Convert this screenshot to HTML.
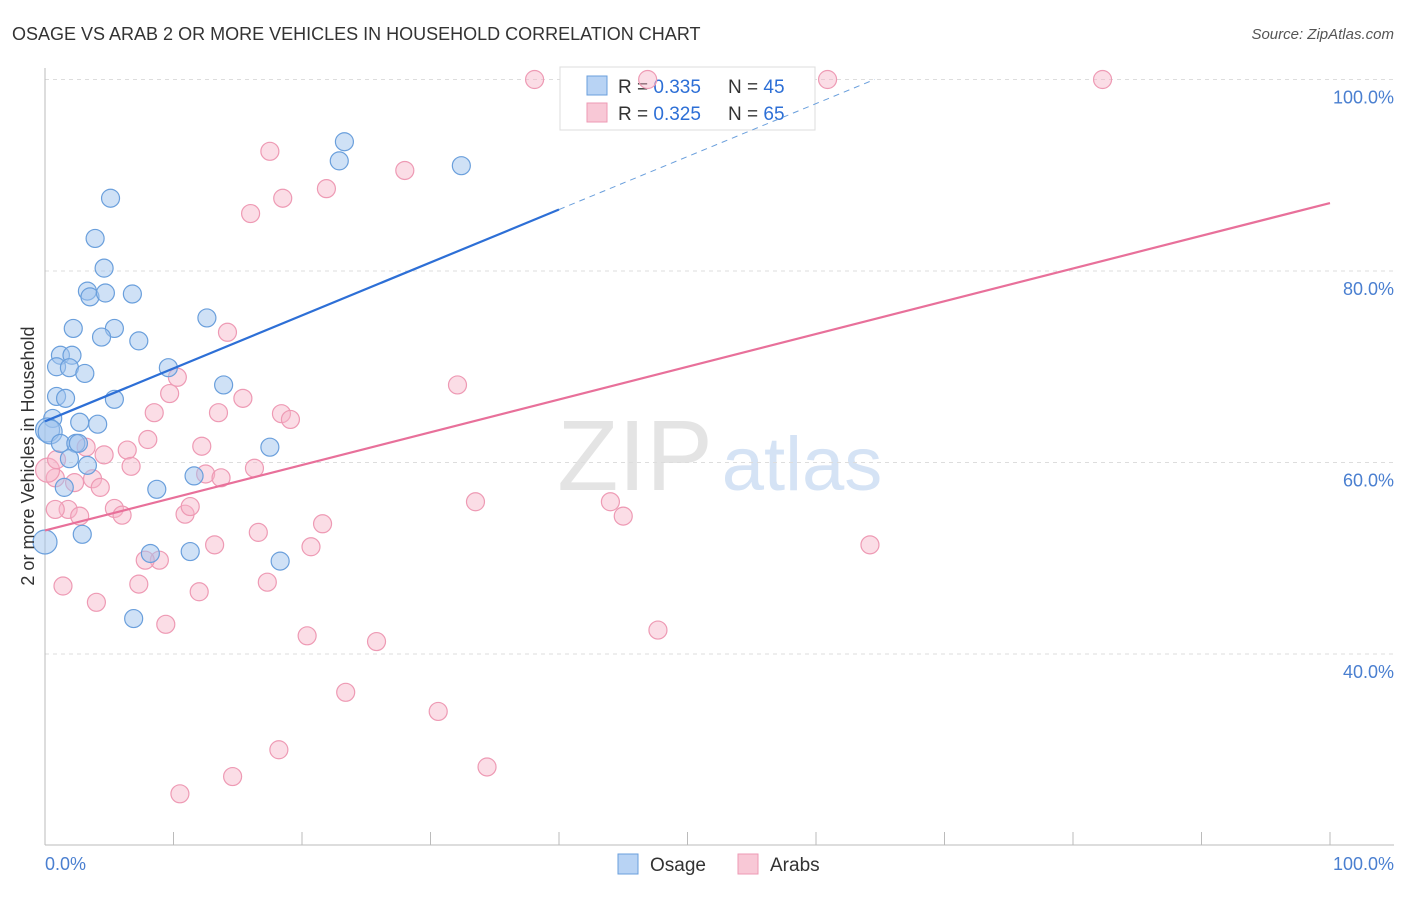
<!DOCTYPE html>
<html><head><meta charset="utf-8"><style>
body{margin:0;background:#fff;font-family:"Liberation Sans",sans-serif;}
svg text{font-family:"Liberation Sans",sans-serif;}
</style></head><body>
<svg id="chart" width="1406" height="892" xmlns="http://www.w3.org/2000/svg">
<text x="12" y="40" font-size="18" fill="#333">OSAGE VS ARAB 2 OR MORE VEHICLES IN HOUSEHOLD CORRELATION CHART</text>
<text x="1394" y="39" font-size="15" fill="#555" text-anchor="end" font-style="italic">Source: ZipAtlas.com</text>
<g><text x="635" y="490" font-size="100" fill="#e4e4e4" font-family="Liberation Serif" text-anchor="middle">ZIP</text><text x="802" y="490" font-size="76" fill="#d5e3f5" text-anchor="middle">atlas</text></g>
<g id="grid"></g>
<g id="axes"></g>
<g>
<rect x="560" y="67" width="255" height="63" fill="#fff" stroke="#ddd"/>
<rect x="587" y="76" width="20" height="19" fill="#b8d3f4" stroke="#6a9fdc"/>
<rect x="587" y="103" width="20" height="19" fill="#f8c8d6" stroke="#ee9ab4"/>
<text x="618" y="93" font-size="19" fill="#333">R = <tspan fill="#2d6fd6">0.335</tspan></text>
<text x="728" y="93" font-size="19" fill="#333">N = <tspan fill="#2d6fd6">45</tspan></text>
<text x="618" y="120" font-size="19" fill="#333">R = <tspan fill="#2d6fd6">0.325</tspan></text>
<text x="728" y="120" font-size="19" fill="#333">N = <tspan fill="#2d6fd6">65</tspan></text>
</g>
<g id="pts"></g>
<g id="trend"></g>
<text transform="translate(34,456) rotate(-90)" font-size="18" fill="#333" text-anchor="middle">2 or more Vehicles in Household</text>
<text x="45" y="870" font-size="18" fill="#4a7fd0">0.0%</text>
<text x="1394" y="870" font-size="18" fill="#4a7fd0" text-anchor="end">100.0%</text>
<g>
<rect x="618" y="854" width="20" height="20" fill="#b8d3f4" stroke="#6a9fdc"/>
<text x="650" y="871" font-size="19" fill="#333">Osage</text>
<rect x="738" y="854" width="20" height="20" fill="#f8c8d6" stroke="#ee9ab4"/>
<text x="770" y="871" font-size="19" fill="#333">Arabs</text>
</g>
</svg>
<script>
const yTicks=[40,60,80,100];
const yTickLabels=["40.0%","60.0%","80.0%","100.0%"];
const osageX=[5.1,3.9,4.6,3.3,3.5,4.7,6.8,2.2,5.4,4.4,7.3,12.6,1.2,2.1,0.9,1.9,3.1,9.6,13.9,0.9,1.6,5.4,0.6,2.7,4.1,0.2,0.4,1.2,2.4,2.6,17.5,1.9,3.3,11.6,1.5,8.7,2.9,0.0,8.2,11.3,18.3,6.9,23.3,22.9,32.4];
const osageY=[87.6,83.4,80.3,77.9,77.3,77.7,77.6,74.0,74.0,73.1,72.7,75.1,71.2,71.2,70.0,69.9,69.3,69.9,68.1,66.9,66.7,66.6,64.6,64.2,64.0,63.4,63.2,62.0,62.0,62.0,61.6,60.4,59.7,58.6,57.4,57.2,52.5,51.7,50.5,50.7,49.7,43.7,93.5,91.5,91.0];
const arabX=[38.1,46.9,60.9,82.3,17.5,18.5,21.9,28.0,16.0,14.2,10.3,9.7,15.4,8.5,13.5,18.4,19.1,32.1,8.0,12.2,3.2,6.4,4.6,16.3,6.7,12.5,13.7,3.7,2.3,4.3,0.8,0.2,0.9,1.8,0.8,5.4,6.0,2.7,10.9,11.3,33.5,44.0,45.0,21.6,16.6,13.2,20.7,8.9,7.8,64.2,1.4,7.3,17.3,12.0,4.0,9.4,20.4,25.8,47.7,23.4,30.6,18.2,14.6,34.4,10.5];
const arabY=[100,100,100,100,92.5,87.6,88.6,90.5,86.0,73.6,68.9,67.2,66.7,65.2,65.2,65.1,64.5,68.1,62.4,61.7,61.6,61.3,60.8,59.4,59.6,58.8,58.4,58.3,57.9,57.4,58.4,59.2,60.3,55.1,55.1,55.2,54.5,54.4,54.6,55.4,55.9,55.9,54.4,53.6,52.7,51.4,51.2,49.8,49.8,51.4,47.1,47.3,47.5,46.5,45.4,43.1,41.9,41.3,42.5,36.0,34.0,30.0,27.2,28.2,25.4];
const osageTrend=[64.3,0.553];
const arabTrend=[52.9,0.342];
const NS="http://www.w3.org/2000/svg";
const X=v=>45+v*12.85, Y=v=>79.5+(100-v)*9.575;
function mk(t,a,p){const e=document.createElementNS(NS,t);for(const k in a)e.setAttribute(k,a[k]);p.appendChild(e);return e;}
const grid=document.getElementById('grid'),axes=document.getElementById('axes'),pts=document.getElementById('pts'),tr=document.getElementById('trend');
yTicks.forEach((t,i)=>{
 const l=mk('line',{x1:45,x2:1394,y1:Y(t),y2:Y(t),stroke:'#ddd','stroke-dasharray':'4,4'},grid);
 
 
 const tx=mk('text',{x:1394,y:Y(t)+24,'font-size':18,fill:'#4a7fd0','text-anchor':'end'},grid);
 tx.textContent=yTickLabels[i];
 
 
});
mk('line',{x1:45,x2:45,y1:68,y2:845,stroke:'#bbb'},axes);
mk('line',{x1:45,x2:1394,y1:845,y2:845,stroke:'#bbb'},axes);
for(let i=0;i<=10;i++){const t=mk('line',{x1:X(i*10),x2:X(i*10),y1:832,y2:845,stroke:'#bbb'},axes);
 
 }
function dots(xs,ys,fill,stroke,name){xs.forEach((x,i)=>{
 const r=(x<0.5)?12:9;
 const c=mk('circle',{cx:X(x),cy:Y(ys[i]),r:r,fill:fill,stroke:stroke,'stroke-width':1.2},pts);
 
 
});}
dots(arabX,arabY,'rgba(246,180,200,0.45)','#ee9ab4','arab-point');
dots(osageX,osageY,'rgba(160,196,238,0.5)','#6a9fdc','osage-point');
const b=osageTrend, p=arabTrend;
const l1=mk('line',{x1:X(0),y1:Y(b[0]),x2:X(40),y2:Y(b[0]+b[1]*40),stroke:'#2d6fd6','stroke-width':2.2},tr);


const xe=(100-b[0])/b[1];
const l2=mk('line',{x1:X(40),y1:Y(b[0]+b[1]*40),x2:X(xe),y2:Y(100),stroke:'#6a9fdc','stroke-width':1,'stroke-dasharray':'6,5'},tr);


const l3=mk('line',{x1:X(0),y1:Y(p[0]),x2:X(100),y2:Y(p[0]+p[1]*100),stroke:'#e8709a','stroke-width':2.2},tr);


</script>
</body></html>
